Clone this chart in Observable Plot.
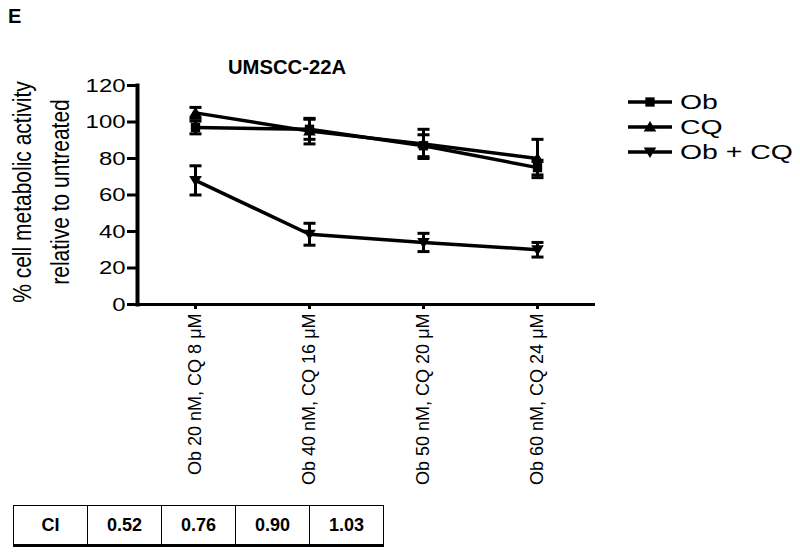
<!DOCTYPE html>
<html><head><meta charset="utf-8">
<script src="https://cdn.jsdelivr.net/npm/d3@7"></script>
<script src="https://cdn.jsdelivr.net/npm/@observablehq/plot@0.6"></script>
<style>
body{margin:0;background:#fff;}
#wrap{position:relative;width:800px;height:552px;overflow:hidden;font-family:"Liberation Sans",Arial,sans-serif;}
#chart{position:absolute;left:0;top:0;}
#ci{position:absolute;left:13px;top:505px;border-collapse:collapse;width:371px;table-layout:fixed;}
#ci td{border:1px solid #000;border-bottom:3px solid #000;height:38px;text-align:center;font:bold 18px "Liberation Sans Narrow","Liberation Sans",sans-serif;padding:0;}
</style></head>
<body><div id="wrap"><div id="chart"></div><table id="ci"><tr id="cirow"></tr></table></div>
<script>
const categories = ["Ob 20 nM, CQ 8 μM", "Ob 40 nM, CQ 16 μM", "Ob 50 nM, CQ 20 μM", "Ob 60 nM, CQ 24 μM"];
const seriesNames = ["Ob", "CQ", "Ob + CQ"];
const obValues = [97, 96, 87, 75];
const obErrors = [3.5, 5.5, 6, 4];
const cqValues = [105, 95, 88, 80];
const cqErrors = [3, 7, 8, 10.5];
const comboValues = [68, 38.5, 34, 30];
const comboErrors = [8, 6, 5, 4];
const yTicks = [0, 20, 40, 60, 80, 100, 120];
const tableLabel = "CI";
const ciValues = ["0.52", "0.76", "0.90", "1.03"];
const chartTitle = "UMSCC-22A";
const panelLetter = "E";
const yLabelLines = ["% cell metabolic activity", "relative to untreated"];

const rows = [];
[[obValues, obErrors], [cqValues, cqErrors], [comboValues, comboErrors]].forEach(([v, e], s) =>
  categories.forEach((c, i) => rows.push({dose: c, series: seriesNames[s], value: v[i], err: e[i]})));

function sym(draw) { return {draw(ctx, size) { const r = Math.sqrt(size / Math.PI); draw(ctx, r); }}; }
const square = sym((c, r) => { const h = r * 0.85; c.rect(-h, -h, 2 * h, 2 * h); });
const triUp = sym((c, r) => { const w = r * 1.15; c.moveTo(0, -r * 1.1); c.lineTo(w, r * 0.8); c.lineTo(-w, r * 0.8); c.closePath(); });
const triDown = sym((c, r) => { const w = r * 1.15; c.moveTo(0, r * 1.1); c.lineTo(w, -r * 0.8); c.lineTo(-w, -r * 0.8); c.closePath(); });
const cap = sym((c, r) => { c.moveTo(-r, 0); c.lineTo(r, 0); });
const symbolsBySeries = [square, triUp, triDown];

const svg = Plot.plot({
  width: 800, height: 500,
  marginLeft: 137, marginRight: 205, marginTop: 85, marginBottom: 196,
  style: {fontFamily: '"Liberation Sans", Arial, sans-serif', fontSize: "18px", color: "#000", background: "transparent"},
  x: {type: "point", domain: categories, padding: 0.5},
  y: {domain: [0, 120]},
  symbol: {domain: seriesNames, range: symbolsBySeries},
  marks: [
    Plot.axisY({ticks: yTicks, tickSize: 10, tickPadding: 2, strokeWidth: 3, fontSize: 19, label: null}),
    Plot.axisX({tickSize: 5, tickPadding: 4, strokeWidth: 3, tickRotate: -90, fontSize: 18, label: null}),
    Plot.frame({anchor: "left", strokeWidth: 4}),
    Plot.ruleY([0], {strokeWidth: 3}),
    Plot.ruleX(rows, {x: "dose", y1: d => d.value - d.err, y2: d => d.value + d.err, strokeWidth: 3}),
    Plot.dot(rows, {x: "dose", y: d => d.value + d.err, symbol: cap, r: 6, stroke: "black", strokeWidth: 3, fill: "none"}),
    Plot.dot(rows, {x: "dose", y: d => d.value - d.err, symbol: cap, r: 6, stroke: "black", strokeWidth: 3, fill: "none"}),
    Plot.line(rows, {x: "dose", y: "value", z: "series", stroke: "black", strokeWidth: 3.5}),
    Plot.dot(rows, {x: "dose", y: "value", symbol: "series", r: 5.5, fill: "black", stroke: "none"})
  ]
});
document.getElementById("chart").appendChild(svg);

// y tick labels: wide digits like the reference
svg.querySelectorAll('g[aria-label="y-axis tick label"] text').forEach(t => {
  t.style.setProperty("font-size", "19px", "important");
  t.setAttribute("textLength", t.textContent.length * 13.3);
  t.setAttribute("lengthAdjust", "spacingAndGlyphs");
});

const s = d3.select(svg);
s.append("text").attr("x", 8).attr("y", 23).attr("text-anchor", "start").style("font-size", "20px").attr("font-weight", "bold")
  .attr("fill", "#000").text(panelLetter);
s.append("text").attr("x", 287).attr("y", 74).attr("text-anchor", "middle").style("font-size", "20px")
  .attr("font-weight", "bold").attr("fill", "#000").attr("textLength", 118).attr("lengthAdjust", "spacingAndGlyphs").text(chartTitle);
const yl = s.append("g").attr("transform", "translate(0,192)");
[[31, yLabelLines[0]], [69, yLabelLines[1]]].forEach(([x, txt]) => {
  yl.append("text").attr("transform", `translate(${x},0) scale(1.25,1) rotate(-90)`).attr("text-anchor", "middle")
    .style("font-size", "21px").attr("fill", "#000").text(txt);
});
const lg = s.append("g");
const symGen = d3.symbol().size(Math.PI * 30);
seriesNames.forEach((name, i) => {
  const y = 102 + i * 25;
  lg.append("line").attr("x1", 628).attr("x2", 672).attr("y1", y).attr("y2", y).attr("stroke", "#000").attr("stroke-width", 3.5);
  lg.append("path").attr("transform", `translate(650,${y})`).attr("d", symGen.type(symbolsBySeries[i])()).attr("fill", "#000");
  const t = lg.append("text").attr("x", 680).attr("y", y + 7).attr("text-anchor", "start").style("font-size", "20px").attr("fill", "#000").text(name);
  const w = t.node().getComputedTextLength();
  t.attr("textLength", w * 1.42).attr("lengthAdjust", "spacingAndGlyphs");
});

const tr = document.getElementById("cirow");
[tableLabel, ...ciValues].forEach(v => { const td = document.createElement("td"); td.textContent = v; tr.appendChild(td); });
</script></body></html>
